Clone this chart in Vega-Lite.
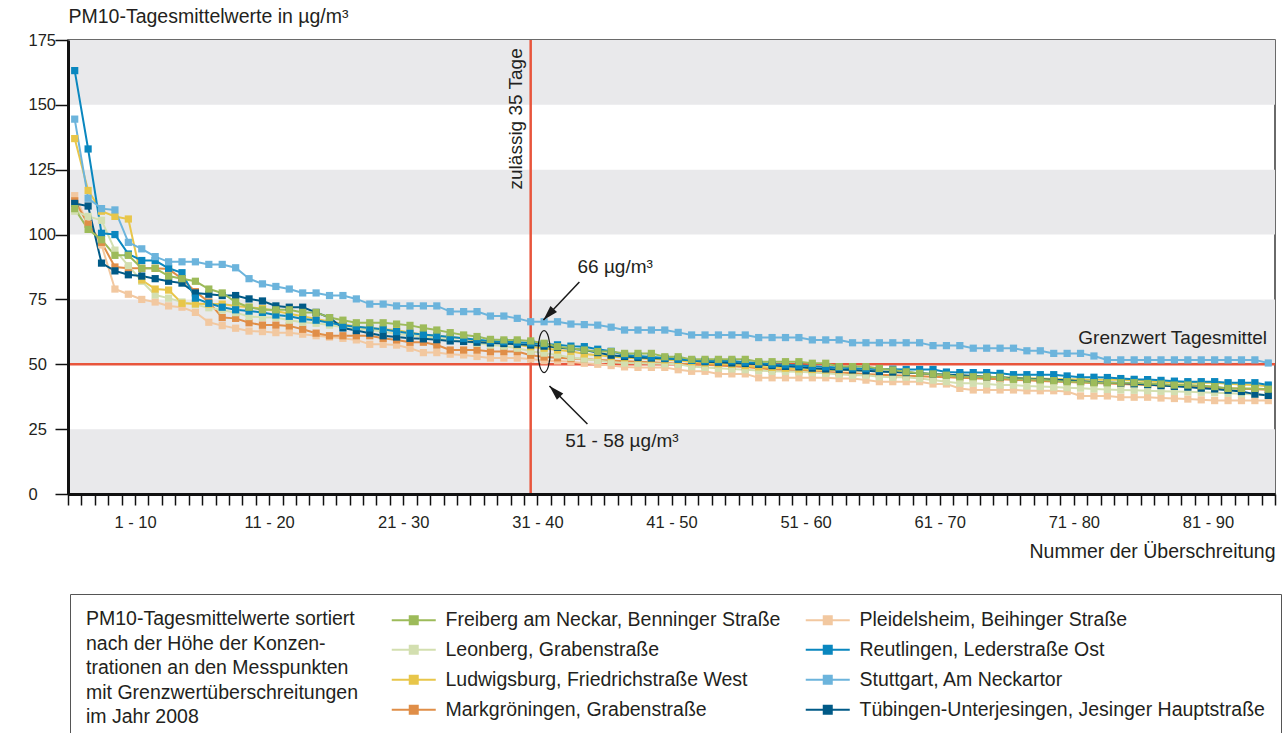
{
"$schema": "https://vega.github.io/schema/vega-lite/v6.json",
"width": 1207, "height": 454,
"autosize": "none",
"padding": {"left": 68, "top": 40, "right": 9, "bottom": 239},
"background": "white",
"config": {"font": "Liberation Sans", "view": {"stroke": "#3a3a3a", "strokeWidth": 1.5}},
"datasets": {
"stations": [
{"s":"F","station":"Freiberg am Neckar, Benninger Straße"},
{"s":"P","station":"Pleidelsheim, Beihinger Straße"},
{"s":"Le","station":"Leonberg, Grabenstraße"},
{"s":"R","station":"Reutlingen, Lederstraße Ost"},
{"s":"Lu","station":"Ludwigsburg, Friedrichstraße West"},
{"s":"S","station":"Stuttgart, Am Neckartor"},
{"s":"M","station":"Markgröningen, Grabenstraße"},
{"s":"T","station":"Tübingen-Unterjesingen, Jesinger Hauptstraße"}
],
"bands": [{"lo":0,"hi":25},{"lo":50,"hi":75},{"lo":100,"hi":125},{"lo":150,"hi":175}],
"pm": [
{"s":"P","n":1,"v":115},{"s":"P","n":2,"v":104},{"s":"P","n":3,"v":96},{"s":"P","n":4,"v":79},{"s":"P","n":5,"v":77},{"s":"P","n":6,"v":75},{"s":"P","n":7,"v":74},{"s":"P","n":8,"v":72.5},{"s":"P","n":9,"v":72},{"s":"P","n":10,"v":70},
{"s":"P","n":11,"v":66.2},{"s":"P","n":12,"v":64.9},{"s":"P","n":13,"v":63.9},{"s":"P","n":14,"v":62.8},{"s":"P","n":15,"v":62.6},{"s":"P","n":16,"v":62.2},{"s":"P","n":17,"v":62.2},{"s":"P","n":18,"v":61.6},{"s":"P","n":19,"v":61},{"s":"P","n":20,"v":60.5},
{"s":"P","n":21,"v":60},{"s":"P","n":22,"v":59.4},{"s":"P","n":23,"v":57.7},{"s":"P","n":24,"v":57.7},{"s":"P","n":25,"v":57.4},{"s":"P","n":26,"v":56.2},{"s":"P","n":27,"v":54.5},{"s":"P","n":28,"v":54.5},{"s":"P","n":29,"v":53.9},{"s":"P","n":30,"v":53.6},
{"s":"P","n":31,"v":53},{"s":"P","n":32,"v":52.4},{"s":"P","n":33,"v":52.4},{"s":"P","n":34,"v":52.4},{"s":"P","n":35,"v":52},{"s":"P","n":36,"v":51.4},{"s":"P","n":37,"v":51.3},{"s":"P","n":38,"v":51},{"s":"P","n":39,"v":50.4},{"s":"P","n":40,"v":50},
{"s":"P","n":41,"v":49.5},{"s":"P","n":42,"v":49},{"s":"P","n":43,"v":48.8},{"s":"P","n":44,"v":48.8},{"s":"P","n":45,"v":48.8},{"s":"P","n":46,"v":47.9},{"s":"P","n":47,"v":47.3},{"s":"P","n":48,"v":47.3},{"s":"P","n":49,"v":46.3},{"s":"P","n":50,"v":46.3},
{"s":"P","n":51,"v":46.3},{"s":"P","n":52,"v":44.8},{"s":"P","n":53,"v":44.8},{"s":"P","n":54,"v":44.8},{"s":"P","n":55,"v":44.8},{"s":"P","n":56,"v":44.8},{"s":"P","n":57,"v":44.8},{"s":"P","n":58,"v":44.5},{"s":"P","n":59,"v":44.5},{"s":"P","n":60,"v":43.9},
{"s":"P","n":61,"v":43.3},{"s":"P","n":62,"v":43.3},{"s":"P","n":63,"v":43.3},{"s":"P","n":64,"v":43.3},{"s":"P","n":65,"v":42.4},{"s":"P","n":66,"v":42.4},{"s":"P","n":67,"v":40.7},{"s":"P","n":68,"v":40.1},{"s":"P","n":69,"v":40.1},{"s":"P","n":70,"v":40.1},
{"s":"P","n":71,"v":40.1},{"s":"P","n":72,"v":39.8},{"s":"P","n":73,"v":39.8},{"s":"P","n":74,"v":39.8},{"s":"P","n":75,"v":39.5},{"s":"P","n":76,"v":37.8},{"s":"P","n":77,"v":37.8},{"s":"P","n":78,"v":37.8},{"s":"P","n":79,"v":37.3},{"s":"P","n":80,"v":37.3},
{"s":"P","n":81,"v":37.3},{"s":"P","n":82,"v":37},{"s":"P","n":83,"v":36.8},{"s":"P","n":84,"v":36.6},{"s":"P","n":85,"v":36.3},{"s":"P","n":86,"v":36},{"s":"P","n":87,"v":36},{"s":"P","n":88,"v":36},{"s":"P","n":89,"v":36},{"s":"P","n":90,"v":36},
{"s":"M","n":1,"v":113},{"s":"M","n":2,"v":104},{"s":"M","n":3,"v":97},{"s":"M","n":4,"v":87.5},{"s":"M","n":5,"v":87},{"s":"M","n":6,"v":87},{"s":"M","n":7,"v":87},{"s":"M","n":8,"v":86.7},{"s":"M","n":9,"v":83},{"s":"M","n":10,"v":78},
{"s":"M","n":11,"v":74},{"s":"M","n":12,"v":68},{"s":"M","n":13,"v":67.7},{"s":"M","n":14,"v":66},{"s":"M","n":15,"v":65.1},{"s":"M","n":16,"v":65.1},{"s":"M","n":17,"v":64.8},{"s":"M","n":18,"v":63.5},{"s":"M","n":19,"v":62},{"s":"M","n":20,"v":61},
{"s":"M","n":21,"v":61},{"s":"M","n":22,"v":61},{"s":"M","n":23,"v":61},{"s":"M","n":24,"v":60},{"s":"M","n":25,"v":59.4},{"s":"M","n":26,"v":58.5},{"s":"M","n":27,"v":58.5},{"s":"M","n":28,"v":57.4},{"s":"M","n":29,"v":55.5},{"s":"M","n":30,"v":55.5},
{"s":"M","n":31,"v":55.5},{"s":"M","n":32,"v":54.9},{"s":"M","n":33,"v":54.9},{"s":"M","n":34,"v":54.9},{"s":"M","n":35,"v":53.5},{"s":"M","n":36,"v":52.8},{"s":"M","n":37,"v":52.5},{"s":"M","n":38,"v":52.2},{"s":"M","n":39,"v":52},{"s":"M","n":40,"v":51.7},
{"s":"M","n":41,"v":51.5},{"s":"M","n":42,"v":51.2},{"s":"M","n":43,"v":51},{"s":"M","n":44,"v":50.8},{"s":"M","n":45,"v":50.5},{"s":"M","n":46,"v":50.2},{"s":"M","n":47,"v":50},{"s":"M","n":48,"v":49.8},{"s":"M","n":49,"v":49.5},{"s":"M","n":50,"v":49.2},
{"s":"M","n":51,"v":49},{"s":"M","n":52,"v":48.5},{"s":"M","n":53,"v":48},{"s":"M","n":54,"v":47.8},{"s":"M","n":55,"v":47.5},{"s":"M","n":56,"v":47.3},{"s":"M","n":57,"v":47},{"s":"M","n":58,"v":46.8},{"s":"M","n":59,"v":46.5},{"s":"M","n":60,"v":46.3},
{"s":"M","n":61,"v":46},{"s":"M","n":62,"v":45.8},{"s":"M","n":63,"v":45.6},{"s":"M","n":64,"v":45.4},{"s":"M","n":65,"v":45.2},{"s":"M","n":66,"v":45},{"s":"M","n":67,"v":44.8},{"s":"M","n":68,"v":44.6},{"s":"M","n":69,"v":44.4},{"s":"M","n":70,"v":44.2},
{"s":"M","n":71,"v":44},{"s":"M","n":72,"v":43.8},{"s":"M","n":73,"v":43.6},{"s":"M","n":74,"v":43.4},{"s":"M","n":75,"v":43.2},{"s":"M","n":76,"v":43},{"s":"M","n":77,"v":42.8},{"s":"M","n":78,"v":42.6},{"s":"M","n":79,"v":42.4},{"s":"M","n":80,"v":42.2},
{"s":"M","n":81,"v":42},{"s":"M","n":82,"v":41.8},{"s":"M","n":83,"v":41.6},{"s":"M","n":84,"v":41.4},{"s":"M","n":85,"v":41.2},{"s":"M","n":86,"v":41},{"s":"M","n":87,"v":40.8},{"s":"M","n":88,"v":40.6},{"s":"M","n":89,"v":40.4},{"s":"M","n":90,"v":40.2},
{"s":"Le","n":1,"v":109},{"s":"Le","n":2,"v":107},{"s":"Le","n":3,"v":105.5},{"s":"Le","n":4,"v":94},{"s":"Le","n":5,"v":88},{"s":"Le","n":6,"v":82},{"s":"Le","n":7,"v":76.7},{"s":"Le","n":8,"v":75.5},{"s":"Le","n":9,"v":74},{"s":"Le","n":10,"v":73},
{"s":"Le","n":11,"v":71.8},{"s":"Le","n":12,"v":70.9},{"s":"Le","n":13,"v":69.9},{"s":"Le","n":14,"v":68.4},{"s":"Le","n":15,"v":68.1},{"s":"Le","n":16,"v":68},{"s":"Le","n":17,"v":67},{"s":"Le","n":18,"v":66.2},{"s":"Le","n":19,"v":65.8},{"s":"Le","n":20,"v":65.1},
{"s":"Le","n":21,"v":64.3},{"s":"Le","n":22,"v":63.6},{"s":"Le","n":23,"v":63.2},{"s":"Le","n":24,"v":62.6},{"s":"Le","n":25,"v":61.7},{"s":"Le","n":26,"v":61.3},{"s":"Le","n":27,"v":60.7},{"s":"Le","n":28,"v":60},{"s":"Le","n":29,"v":59.4},{"s":"Le","n":30,"v":58.8},
{"s":"Le","n":31,"v":58.1},{"s":"Le","n":32,"v":57.4},{"s":"Le","n":33,"v":57},{"s":"Le","n":34,"v":56.2},{"s":"Le","n":35,"v":55},{"s":"Le","n":36,"v":54.3},{"s":"Le","n":37,"v":53.6},{"s":"Le","n":38,"v":52.6},{"s":"Le","n":39,"v":52},{"s":"Le","n":40,"v":51.5},
{"s":"Le","n":41,"v":50.8},{"s":"Le","n":42,"v":50.5},{"s":"Le","n":43,"v":50.4},{"s":"Le","n":44,"v":50.3},{"s":"Le","n":45,"v":50.2},{"s":"Le","n":46,"v":50},{"s":"Le","n":47,"v":49.1},{"s":"Le","n":48,"v":48.8},{"s":"Le","n":49,"v":48.5},{"s":"Le","n":50,"v":48.2},
{"s":"Le","n":51,"v":47.9},{"s":"Le","n":52,"v":47.6},{"s":"Le","n":53,"v":47.3},{"s":"Le","n":54,"v":47.2},{"s":"Le","n":55,"v":47.1},{"s":"Le","n":56,"v":46.8},{"s":"Le","n":57,"v":46.5},{"s":"Le","n":58,"v":46.2},{"s":"Le","n":59,"v":45.8},{"s":"Le","n":60,"v":45.8},
{"s":"Le","n":61,"v":45.2},{"s":"Le","n":62,"v":45},{"s":"Le","n":63,"v":45},{"s":"Le","n":64,"v":44.5},{"s":"Le","n":65,"v":43.9},{"s":"Le","n":66,"v":43.3},{"s":"Le","n":67,"v":42.7},{"s":"Le","n":68,"v":42.7},{"s":"Le","n":69,"v":42.4},{"s":"Le","n":70,"v":42},
{"s":"Le","n":71,"v":42},{"s":"Le","n":72,"v":41.6},{"s":"Le","n":73,"v":41.4},{"s":"Le","n":74,"v":41.2},{"s":"Le","n":75,"v":41},{"s":"Le","n":76,"v":40.8},{"s":"Le","n":77,"v":40.5},{"s":"Le","n":78,"v":40.3},{"s":"Le","n":79,"v":40.1},{"s":"Le","n":80,"v":40},
{"s":"Le","n":81,"v":39.8},{"s":"Le","n":82,"v":39.6},{"s":"Le","n":83,"v":39.5},{"s":"Le","n":84,"v":39.4},{"s":"Le","n":85,"v":39.2},{"s":"Le","n":86,"v":39},{"s":"Le","n":87,"v":38.8},{"s":"Le","n":88,"v":38.6},{"s":"Le","n":89,"v":38.4},{"s":"Le","n":90,"v":38.2},
{"s":"Lu","n":1,"v":137},{"s":"Lu","n":2,"v":117},{"s":"Lu","n":3,"v":109},{"s":"Lu","n":4,"v":107},{"s":"Lu","n":5,"v":106},{"s":"Lu","n":6,"v":82.5},{"s":"Lu","n":7,"v":79},{"s":"Lu","n":8,"v":78.6},{"s":"Lu","n":9,"v":73.5},{"s":"Lu","n":10,"v":73.3},
{"s":"Lu","n":11,"v":73.2},{"s":"Lu","n":12,"v":73.2},{"s":"Lu","n":13,"v":72.5},{"s":"Lu","n":14,"v":72},{"s":"Lu","n":15,"v":71.5},{"s":"Lu","n":16,"v":70.5},{"s":"Lu","n":17,"v":69.5},{"s":"Lu","n":18,"v":68.5},{"s":"Lu","n":19,"v":67.5},{"s":"Lu","n":20,"v":66.5},
{"s":"Lu","n":21,"v":65.5},{"s":"Lu","n":22,"v":64.5},{"s":"Lu","n":23,"v":64},{"s":"Lu","n":24,"v":63.5},{"s":"Lu","n":25,"v":63.2},{"s":"Lu","n":26,"v":62.2},{"s":"Lu","n":27,"v":61.5},{"s":"Lu","n":28,"v":61},{"s":"Lu","n":29,"v":60.5},{"s":"Lu","n":30,"v":60},
{"s":"Lu","n":31,"v":59},{"s":"Lu","n":32,"v":58.5},{"s":"Lu","n":33,"v":58},{"s":"Lu","n":34,"v":57.5},{"s":"Lu","n":35,"v":56.8},{"s":"Lu","n":36,"v":56.2},{"s":"Lu","n":37,"v":55.5},{"s":"Lu","n":38,"v":55},{"s":"Lu","n":39,"v":54},{"s":"Lu","n":40,"v":53.5},
{"s":"Lu","n":41,"v":53},{"s":"Lu","n":42,"v":52.5},{"s":"Lu","n":43,"v":52.3},{"s":"Lu","n":44,"v":52},{"s":"Lu","n":45,"v":51.7},{"s":"Lu","n":46,"v":51.5},{"s":"Lu","n":47,"v":51},{"s":"Lu","n":48,"v":50.5},{"s":"Lu","n":49,"v":50.2},{"s":"Lu","n":50,"v":50},
{"s":"Lu","n":51,"v":49.5},{"s":"Lu","n":52,"v":49},{"s":"Lu","n":53,"v":48.8},{"s":"Lu","n":54,"v":48.5},{"s":"Lu","n":55,"v":48.2},{"s":"Lu","n":56,"v":48},{"s":"Lu","n":57,"v":47.8},{"s":"Lu","n":58,"v":47.8},{"s":"Lu","n":59,"v":47.6},{"s":"Lu","n":60,"v":47.5},
{"s":"Lu","n":61,"v":47.2},{"s":"Lu","n":62,"v":47},{"s":"Lu","n":63,"v":46.8},{"s":"Lu","n":64,"v":46.5},{"s":"Lu","n":65,"v":46.2},{"s":"Lu","n":66,"v":46},{"s":"Lu","n":67,"v":45.8},{"s":"Lu","n":68,"v":45.5},{"s":"Lu","n":69,"v":45.2},{"s":"Lu","n":70,"v":45},
{"s":"Lu","n":71,"v":44.8},{"s":"Lu","n":72,"v":44.6},{"s":"Lu","n":73,"v":44.5},{"s":"Lu","n":74,"v":44.3},{"s":"Lu","n":75,"v":44.2},{"s":"Lu","n":76,"v":44.1},{"s":"Lu","n":77,"v":44},{"s":"Lu","n":78,"v":44},{"s":"Lu","n":79,"v":44},{"s":"Lu","n":80,"v":43.8},
{"s":"Lu","n":81,"v":43.5},{"s":"Lu","n":82,"v":43.2},{"s":"Lu","n":83,"v":43},{"s":"Lu","n":84,"v":42.9},{"s":"Lu","n":85,"v":42.9},{"s":"Lu","n":86,"v":42.9},{"s":"Lu","n":87,"v":42.5},{"s":"Lu","n":88,"v":42.2},{"s":"Lu","n":89,"v":42},{"s":"Lu","n":90,"v":41.5},
{"s":"T","n":1,"v":112},{"s":"T","n":2,"v":111},{"s":"T","n":3,"v":89},{"s":"T","n":4,"v":86},{"s":"T","n":5,"v":84.5},{"s":"T","n":6,"v":84},{"s":"T","n":7,"v":83},{"s":"T","n":8,"v":82},{"s":"T","n":9,"v":81.3},{"s":"T","n":10,"v":77.5},
{"s":"T","n":11,"v":77},{"s":"T","n":12,"v":76.5},{"s":"T","n":13,"v":76.5},{"s":"T","n":14,"v":75.2},{"s":"T","n":15,"v":74.4},{"s":"T","n":16,"v":72.5},{"s":"T","n":17,"v":72},{"s":"T","n":18,"v":72},{"s":"T","n":19,"v":70},{"s":"T","n":20,"v":68},
{"s":"T","n":21,"v":64},{"s":"T","n":22,"v":63},{"s":"T","n":23,"v":62},{"s":"T","n":24,"v":61},{"s":"T","n":25,"v":60.5},{"s":"T","n":26,"v":60},{"s":"T","n":27,"v":59.8},{"s":"T","n":28,"v":59.5},{"s":"T","n":29,"v":59},{"s":"T","n":30,"v":58.8},
{"s":"T","n":31,"v":58.5},{"s":"T","n":32,"v":58.2},{"s":"T","n":33,"v":58},{"s":"T","n":34,"v":57.7},{"s":"T","n":35,"v":57.4},{"s":"T","n":36,"v":57},{"s":"T","n":37,"v":56.5},{"s":"T","n":38,"v":56},{"s":"T","n":39,"v":55.5},{"s":"T","n":40,"v":54.5},
{"s":"T","n":41,"v":53.5},{"s":"T","n":42,"v":53},{"s":"T","n":43,"v":52.6},{"s":"T","n":44,"v":52.4},{"s":"T","n":45,"v":52.2},{"s":"T","n":46,"v":52},{"s":"T","n":47,"v":51.5},{"s":"T","n":48,"v":51},{"s":"T","n":49,"v":50.8},{"s":"T","n":50,"v":50.5},
{"s":"T","n":51,"v":50.3},{"s":"T","n":52,"v":50},{"s":"T","n":53,"v":49.5},{"s":"T","n":54,"v":49.2},{"s":"T","n":55,"v":49},{"s":"T","n":56,"v":48.5},{"s":"T","n":57,"v":48.2},{"s":"T","n":58,"v":48},{"s":"T","n":59,"v":47.8},{"s":"T","n":60,"v":47.5},
{"s":"T","n":61,"v":47.2},{"s":"T","n":62,"v":47},{"s":"T","n":63,"v":46.8},{"s":"T","n":64,"v":46.5},{"s":"T","n":65,"v":46.3},{"s":"T","n":66,"v":46},{"s":"T","n":67,"v":45.8},{"s":"T","n":68,"v":45.5},{"s":"T","n":69,"v":45.2},{"s":"T","n":70,"v":45},
{"s":"T","n":71,"v":44.6},{"s":"T","n":72,"v":44.4},{"s":"T","n":73,"v":44.2},{"s":"T","n":74,"v":44},{"s":"T","n":75,"v":43.8},{"s":"T","n":76,"v":43.5},{"s":"T","n":77,"v":43.2},{"s":"T","n":78,"v":43},{"s":"T","n":79,"v":42.8},{"s":"T","n":80,"v":42.5},
{"s":"T","n":81,"v":42.2},{"s":"T","n":82,"v":41.8},{"s":"T","n":83,"v":41.5},{"s":"T","n":84,"v":41.2},{"s":"T","n":85,"v":40.8},{"s":"T","n":86,"v":40.5},{"s":"T","n":87,"v":40},{"s":"T","n":88,"v":39.5},{"s":"T","n":89,"v":38.5},{"s":"T","n":90,"v":38},
{"s":"R","n":1,"v":163.2},{"s":"R","n":2,"v":133},{"s":"R","n":3,"v":100.5},{"s":"R","n":4,"v":100},{"s":"R","n":5,"v":92.5},{"s":"R","n":6,"v":90},{"s":"R","n":7,"v":90},{"s":"R","n":8,"v":87},{"s":"R","n":9,"v":85.3},{"s":"R","n":10,"v":75.5},
{"s":"R","n":11,"v":73.5},{"s":"R","n":12,"v":72},{"s":"R","n":13,"v":71},{"s":"R","n":14,"v":70.5},{"s":"R","n":15,"v":70},{"s":"R","n":16,"v":69},{"s":"R","n":17,"v":68.5},{"s":"R","n":18,"v":67.5},{"s":"R","n":19,"v":67},{"s":"R","n":20,"v":66},
{"s":"R","n":21,"v":65},{"s":"R","n":22,"v":64.5},{"s":"R","n":23,"v":64},{"s":"R","n":24,"v":63.5},{"s":"R","n":25,"v":62.6},{"s":"R","n":26,"v":62},{"s":"R","n":27,"v":61.5},{"s":"R","n":28,"v":61},{"s":"R","n":29,"v":60.5},{"s":"R","n":30,"v":60},
{"s":"R","n":31,"v":59.5},{"s":"R","n":32,"v":59},{"s":"R","n":33,"v":58.7},{"s":"R","n":34,"v":58.5},{"s":"R","n":35,"v":58.2},{"s":"R","n":36,"v":57.8},{"s":"R","n":37,"v":57.5},{"s":"R","n":38,"v":57},{"s":"R","n":39,"v":56.8},{"s":"R","n":40,"v":55.8},
{"s":"R","n":41,"v":55},{"s":"R","n":42,"v":53.6},{"s":"R","n":43,"v":53.2},{"s":"R","n":44,"v":52.8},{"s":"R","n":45,"v":52.4},{"s":"R","n":46,"v":52},{"s":"R","n":47,"v":51.5},{"s":"R","n":48,"v":51.3},{"s":"R","n":49,"v":51.3},{"s":"R","n":50,"v":51.3},
{"s":"R","n":51,"v":50.8},{"s":"R","n":52,"v":50.5},{"s":"R","n":53,"v":50},{"s":"R","n":54,"v":49.8},{"s":"R","n":55,"v":49.5},{"s":"R","n":56,"v":49.2},{"s":"R","n":57,"v":49},{"s":"R","n":58,"v":48.8},{"s":"R","n":59,"v":48.5},{"s":"R","n":60,"v":48.3},
{"s":"R","n":61,"v":48.2},{"s":"R","n":62,"v":48.1},{"s":"R","n":63,"v":48},{"s":"R","n":64,"v":48},{"s":"R","n":65,"v":48},{"s":"R","n":66,"v":47},{"s":"R","n":67,"v":46.8},{"s":"R","n":68,"v":46.8},{"s":"R","n":69,"v":46.8},{"s":"R","n":70,"v":46.5},
{"s":"R","n":71,"v":46},{"s":"R","n":72,"v":46},{"s":"R","n":73,"v":46},{"s":"R","n":74,"v":46},{"s":"R","n":75,"v":45.5},{"s":"R","n":76,"v":45},{"s":"R","n":77,"v":45},{"s":"R","n":78,"v":44.9},{"s":"R","n":79,"v":44.5},{"s":"R","n":80,"v":44.2},
{"s":"R","n":81,"v":44.1},{"s":"R","n":82,"v":43.8},{"s":"R","n":83,"v":43.5},{"s":"R","n":84,"v":43.3},{"s":"R","n":85,"v":43.3},{"s":"R","n":86,"v":43.3},{"s":"R","n":87,"v":42.9},{"s":"R","n":88,"v":42.9},{"s":"R","n":89,"v":42.9},{"s":"R","n":90,"v":42},
{"s":"S","n":1,"v":144.5},{"s":"S","n":2,"v":114},{"s":"S","n":3,"v":110},{"s":"S","n":4,"v":109.5},{"s":"S","n":5,"v":97},{"s":"S","n":6,"v":94.5},{"s":"S","n":7,"v":91.5},{"s":"S","n":8,"v":89.5},{"s":"S","n":9,"v":89.5},{"s":"S","n":10,"v":89.5},
{"s":"S","n":11,"v":88.5},{"s":"S","n":12,"v":88.5},{"s":"S","n":13,"v":87.2},{"s":"S","n":14,"v":83},{"s":"S","n":15,"v":81},{"s":"S","n":16,"v":80},{"s":"S","n":17,"v":79},{"s":"S","n":18,"v":77.5},{"s":"S","n":19,"v":77.5},{"s":"S","n":20,"v":76.5},
{"s":"S","n":21,"v":76.5},{"s":"S","n":22,"v":75.2},{"s":"S","n":23,"v":73.2},{"s":"S","n":24,"v":73.2},{"s":"S","n":25,"v":72.5},{"s":"S","n":26,"v":72.5},{"s":"S","n":27,"v":72.5},{"s":"S","n":28,"v":72.5},{"s":"S","n":29,"v":70.3},{"s":"S","n":30,"v":70.3},
{"s":"S","n":31,"v":70.3},{"s":"S","n":32,"v":68.6},{"s":"S","n":33,"v":68.6},{"s":"S","n":34,"v":67.7},{"s":"S","n":35,"v":66.4},{"s":"S","n":36,"v":66.4},{"s":"S","n":37,"v":66.4},{"s":"S","n":38,"v":65.5},{"s":"S","n":39,"v":65.3},{"s":"S","n":40,"v":65.1},
{"s":"S","n":41,"v":64.3},{"s":"S","n":42,"v":63.2},{"s":"S","n":43,"v":63.2},{"s":"S","n":44,"v":63.2},{"s":"S","n":45,"v":63.2},{"s":"S","n":46,"v":62.3},{"s":"S","n":47,"v":61.3},{"s":"S","n":48,"v":61.3},{"s":"S","n":49,"v":61.3},{"s":"S","n":50,"v":61.3},
{"s":"S","n":51,"v":61.3},{"s":"S","n":52,"v":60.3},{"s":"S","n":53,"v":60.3},{"s":"S","n":54,"v":60.3},{"s":"S","n":55,"v":60.3},{"s":"S","n":56,"v":59.4},{"s":"S","n":57,"v":59.4},{"s":"S","n":58,"v":59.4},{"s":"S","n":59,"v":58.3},{"s":"S","n":60,"v":58.3},
{"s":"S","n":61,"v":58.3},{"s":"S","n":62,"v":58.3},{"s":"S","n":63,"v":58.3},{"s":"S","n":64,"v":58.3},{"s":"S","n":65,"v":57.2},{"s":"S","n":66,"v":57.2},{"s":"S","n":67,"v":57.2},{"s":"S","n":68,"v":56.2},{"s":"S","n":69,"v":56.2},{"s":"S","n":70,"v":56.2},
{"s":"S","n":71,"v":56.2},{"s":"S","n":72,"v":55.2},{"s":"S","n":73,"v":55.2},{"s":"S","n":74,"v":54.2},{"s":"S","n":75,"v":54.2},{"s":"S","n":76,"v":54.2},{"s":"S","n":77,"v":53.2},{"s":"S","n":78,"v":51.7},{"s":"S","n":79,"v":51.7},{"s":"S","n":80,"v":51.7},
{"s":"S","n":81,"v":51.7},{"s":"S","n":82,"v":51.7},{"s":"S","n":83,"v":51.7},{"s":"S","n":84,"v":51.7},{"s":"S","n":85,"v":51.7},{"s":"S","n":86,"v":51.7},{"s":"S","n":87,"v":51.7},{"s":"S","n":88,"v":51.7},{"s":"S","n":89,"v":51.7},{"s":"S","n":90,"v":50.5},
{"s":"F","n":1,"v":110},{"s":"F","n":2,"v":102},{"s":"F","n":3,"v":98},{"s":"F","n":4,"v":92},{"s":"F","n":5,"v":92},{"s":"F","n":6,"v":87},{"s":"F","n":7,"v":87},{"s":"F","n":8,"v":84},{"s":"F","n":9,"v":83},{"s":"F","n":10,"v":82},
{"s":"F","n":11,"v":79},{"s":"F","n":12,"v":77.5},{"s":"F","n":13,"v":74},{"s":"F","n":14,"v":72},{"s":"F","n":15,"v":71},{"s":"F","n":16,"v":71},{"s":"F","n":17,"v":71},{"s":"F","n":18,"v":70},{"s":"F","n":19,"v":70},{"s":"F","n":20,"v":68},
{"s":"F","n":21,"v":67},{"s":"F","n":22,"v":66},{"s":"F","n":23,"v":66},{"s":"F","n":24,"v":66},{"s":"F","n":25,"v":65.5},{"s":"F","n":26,"v":65},{"s":"F","n":27,"v":64},{"s":"F","n":28,"v":63.2},{"s":"F","n":29,"v":62.2},{"s":"F","n":30,"v":61.3},
{"s":"F","n":31,"v":60.7},{"s":"F","n":32,"v":59.6},{"s":"F","n":33,"v":59.4},{"s":"F","n":34,"v":59.4},{"s":"F","n":35,"v":59},{"s":"F","n":36,"v":58.1},{"s":"F","n":37,"v":56.8},{"s":"F","n":38,"v":56.2},{"s":"F","n":39,"v":55.5},{"s":"F","n":40,"v":54.9},
{"s":"F","n":41,"v":54.9},{"s":"F","n":42,"v":54.2},{"s":"F","n":43,"v":54.2},{"s":"F","n":44,"v":54.2},{"s":"F","n":45,"v":52.9},{"s":"F","n":46,"v":52.9},{"s":"F","n":47,"v":51.9},{"s":"F","n":48,"v":51.9},{"s":"F","n":49,"v":51.9},{"s":"F","n":50,"v":51.9},
{"s":"F","n":51,"v":51.9},{"s":"F","n":52,"v":51},{"s":"F","n":53,"v":51},{"s":"F","n":54,"v":51},{"s":"F","n":55,"v":51},{"s":"F","n":56,"v":50.4},{"s":"F","n":57,"v":50.4},{"s":"F","n":58,"v":49.1},{"s":"F","n":59,"v":49.1},{"s":"F","n":60,"v":49.1},
{"s":"F","n":61,"v":48.4},{"s":"F","n":62,"v":47.8},{"s":"F","n":63,"v":47.1},{"s":"F","n":64,"v":46.5},{"s":"F","n":65,"v":46.3},{"s":"F","n":66,"v":45.8},{"s":"F","n":67,"v":45.2},{"s":"F","n":68,"v":45.2},{"s":"F","n":69,"v":45.2},{"s":"F","n":70,"v":45},
{"s":"F","n":71,"v":44.2},{"s":"F","n":72,"v":44.2},{"s":"F","n":73,"v":44},{"s":"F","n":74,"v":43.7},{"s":"F","n":75,"v":43.3},{"s":"F","n":76,"v":43.3},{"s":"F","n":77,"v":42.9},{"s":"F","n":78,"v":42.9},{"s":"F","n":79,"v":42.9},{"s":"F","n":80,"v":42.9},
{"s":"F","n":81,"v":42.6},{"s":"F","n":82,"v":42.4},{"s":"F","n":83,"v":42},{"s":"F","n":84,"v":42},{"s":"F","n":85,"v":41.7},{"s":"F","n":86,"v":41.4},{"s":"F","n":87,"v":40.7},{"s":"F","n":88,"v":40.7},{"s":"F","n":89,"v":40.7},{"s":"F","n":90,"v":40.4}
]
},
"layer": [
{"data": {"name": "bands"}, "mark": {"type": "rect", "fill": "#e9e9eb"},
 "encoding": {"y": {"field": "lo", "type": "quantitative"}, "y2": {"field": "hi"}}},
{"data": {"values": [{"lim": 50}]}, "mark": {"type": "rule", "color": "#e8553c", "strokeWidth": 2.5},
 "encoding": {"y": {"field": "lim", "type": "quantitative"}}},
{"data": {"values": [{"day": 35}]}, "mark": {"type": "rule", "color": "#e8553c", "strokeWidth": 2.5},
 "encoding": {"x": {"field": "day", "type": "quantitative"}}},
{"data": {"name": "pm"},
 "transform": [{"lookup": "s", "from": {"data": {"name": "stations"}, "key": "s", "fields": ["station"]}}],
 "mark": {"type": "line", "strokeWidth": 2, "point": {"shape": "square", "size": 52, "filled": true, "opacity": 1}},
 "encoding": {
  "x": {"field": "n", "type": "quantitative",
   "scale": {"domain": [0.5, 90.5], "nice": false, "zero": false},
   "axis": {"values": [0.5,1.5,2.5,3.5,4.5,5.5,6.5,7.5,8.5,9.5,10.5,11.5,12.5,13.5,14.5,15.5,16.5,17.5,18.5,19.5,20.5,21.5,22.5,23.5,24.5,25.5,26.5,27.5,28.5,29.5,30.5,31.5,32.5,33.5,34.5,35.5,36.5,37.5,38.5,39.5,40.5,41.5,42.5,43.5,44.5,45.5,46.5,47.5,48.5,49.5,50.5,51.5,52.5,53.5,54.5,55.5,56.5,57.5,58.5,59.5,60.5,61.5,62.5,63.5,64.5,65.5,66.5,67.5,68.5,69.5,70.5,71.5,72.5,73.5,74.5,75.5,76.5,77.5,78.5,79.5,80.5,81.5,82.5,83.5,84.5,85.5,86.5,87.5,88.5,89.5,90.5],
    "tickCount": 500, "zindex": 1,
    "labelExpr": "(datum.value - 0.5) % 10 == 5 ? (datum.value - 4.5) + ' - ' + (datum.value + 4.5) : ''",
    "labelOverlap": false, "labelFlush": false, "labelBound": false,
    "labelFontSize": 16.5, "labelColor": "#231f20", "labelPadding": 9,
    "domainColor": "#111111", "domainWidth": 3, "tickColor": "#111111", "tickWidth": 1.5, "tickSize": 11,
    "encode": {"ticks": {"update": {"y2": {"signal": "(datum.value - 0.5) % 10 == 0 ? 11 : 7"}}}},
    "grid": false,
    "title": "Nummer der Überschreitung", "titleFontSize": 19.5, "titleFontWeight": "normal", "titleColor": "#231f20",
    "titleAnchor": "end", "titleAlign": "right", "titleBaseline": "middle", "titleX": 1207, "titleY": 57}},
  "y": {"field": "v", "type": "quantitative",
   "scale": {"domain": [0, 175], "nice": false},
   "axis": {"values": [0,25,50,75,100,125,150,175], "grid": false, "zindex": 1,
    "labelFontSize": 16.5, "labelColor": "#231f20", "labelPadding": 27, "labelAlign": "left",
    "domainColor": "#111111", "domainWidth": 3, "tickColor": "#111111", "tickWidth": 1.5, "tickSize": 13,
    "title": "PM10-Tagesmittelwerte in µg/m³", "titleFontSize": 19.5, "titleFontWeight": "normal", "titleColor": "#231f20",
    "titleAngle": 0, "titleAlign": "left", "titleBaseline": "middle", "titleX": 0, "titleY": -24}},
  "color": {"field": "station", "type": "nominal",
   "scale": {"domain": ["Freiberg am Neckar, Benninger Straße","Leonberg, Grabenstraße","Ludwigsburg, Friedrichstraße West","Markgröningen, Grabenstraße","Pleidelsheim, Beihinger Straße","Reutlingen, Lederstraße Ost","Stuttgart, Am Neckartor","Tübingen-Unterjesingen, Jesinger Hauptstraße"],
    "range": ["#9dbb5a","#d3dfb0","#e8c64a","#e08e48","#f2c8a0","#0a87bf","#6cb4dc","#005a87"]},
   "legend": {"orient": "none", "legendX": 2, "legendY": 554, "direction": "vertical", "columns": 2,
    "title": ["PM10-Tagesmittelwerte sortiert","nach der Höhe der Konzen-","trationen an den  Messpunkten","mit Grenzwertüberschreitungen","im Jahr 2008"],
    "titleOrient": "left", "titleAnchor": "start", "titleBaseline": "top", "titleFontSize": 19.5, "titleFontWeight": "normal",
    "titleLineHeight": 24.5, "titlePadding": 28, "titleColor": "#231f20", "titleLimit": 500,
    "labelFontSize": 19.5, "labelColor": "#231f20", "labelOffset": 39, "labelLimit": 600,
    "columnPadding": 20, "rowPadding": 9, "padding": 16,
    "strokeColor": "#555555", "fillColor": "white",
    "symbolType": "M-1,0H7.8M2.6,-0.8H4.2V0.8H2.6Z", "symbolSize": 100, "symbolStrokeWidth": 2,
    "encode": {"symbols": {"update": {"fill": {"scale": "color", "field": "value"}, "stroke": {"scale": "color", "field": "value"}, "opacity": {"value": 1}}}}}}
 }},
{"data": {"values": [{"px": 41.3, "py": 87.5, "t": "66 µg/m³"}, {"px": 41.8, "py": 20.4, "t": "51 - 58 µg/m³"}]},
 "mark": {"type": "text", "fontSize": 19, "color": "#231f20", "align": "center", "baseline": "middle"},
 "encoding": {"x": {"field": "px", "type": "quantitative"}, "y": {"field": "py", "type": "quantitative"}, "text": {"field": "t"}}},
{"data": {"values": [{"px": 89.9, "py": 60.1, "t": "Grenzwert Tagesmittel"}]},
 "mark": {"type": "text", "fontSize": 19, "color": "#231f20", "align": "right", "baseline": "middle"},
 "encoding": {"x": {"field": "px", "type": "quantitative"}, "y": {"field": "py", "type": "quantitative"}, "text": {"field": "t"}}},
{"data": {"values": [{"px": 34.68, "py": 144.6, "t": "zulässig 35 Tage"}]},
 "mark": {"type": "text", "fontSize": 19, "color": "#231f20", "align": "center", "baseline": "bottom", "angle": 270},
 "encoding": {"x": {"field": "px", "type": "quantitative"}, "y": {"field": "py", "type": "quantitative"}, "text": {"field": "t"}}},
{"data": {"values": [{"x1": 38.63, "y1": 81.7, "x2": 35.95, "y2": 67.1}, {"x1": 39.23, "y1": 27.0, "x2": 36.4, "y2": 41.6}]},
 "mark": {"type": "rule", "color": "#1a1a1a", "strokeWidth": 1.5},
 "encoding": {"x": {"field": "x1", "type": "quantitative"}, "y": {"field": "y1", "type": "quantitative"}, "x2": {"field": "x2"}, "y2": {"field": "y2"}}},
{"data": {"values": [{"x2": 35.95, "y2": 67.1}]},
 "mark": {"type": "point", "shape": "M0,0L-0.45,1.5L0.45,1.5Z", "size": 400, "filled": true, "color": "#1a1a1a", "opacity": 1, "angle": 223.4},
 "encoding": {"x": {"field": "x2", "type": "quantitative"}, "y": {"field": "y2", "type": "quantitative"}}},
{"data": {"values": [{"x2": 36.4, "y2": 41.6}]},
 "mark": {"type": "point", "shape": "M0,0L-0.45,1.5L0.45,1.5Z", "size": 400, "filled": true, "color": "#1a1a1a", "opacity": 1, "angle": 315},
 "encoding": {"x": {"field": "x2", "type": "quantitative"}, "y": {"field": "y2", "type": "quantitative"}}},
{"data": {"values": [{"cx": 36, "cy": 54.9}]},
 "mark": {"type": "point", "shape": "M0,-1A0.29,1 0 1,1 0,1A0.29,1 0 1,1 0,-1Z", "size": 1764, "filled": false, "stroke": "#1a1a1a", "strokeWidth": 1.2, "opacity": 1},
 "encoding": {"x": {"field": "cx", "type": "quantitative"}, "y": {"field": "cy", "type": "quantitative"}}}
]
}
